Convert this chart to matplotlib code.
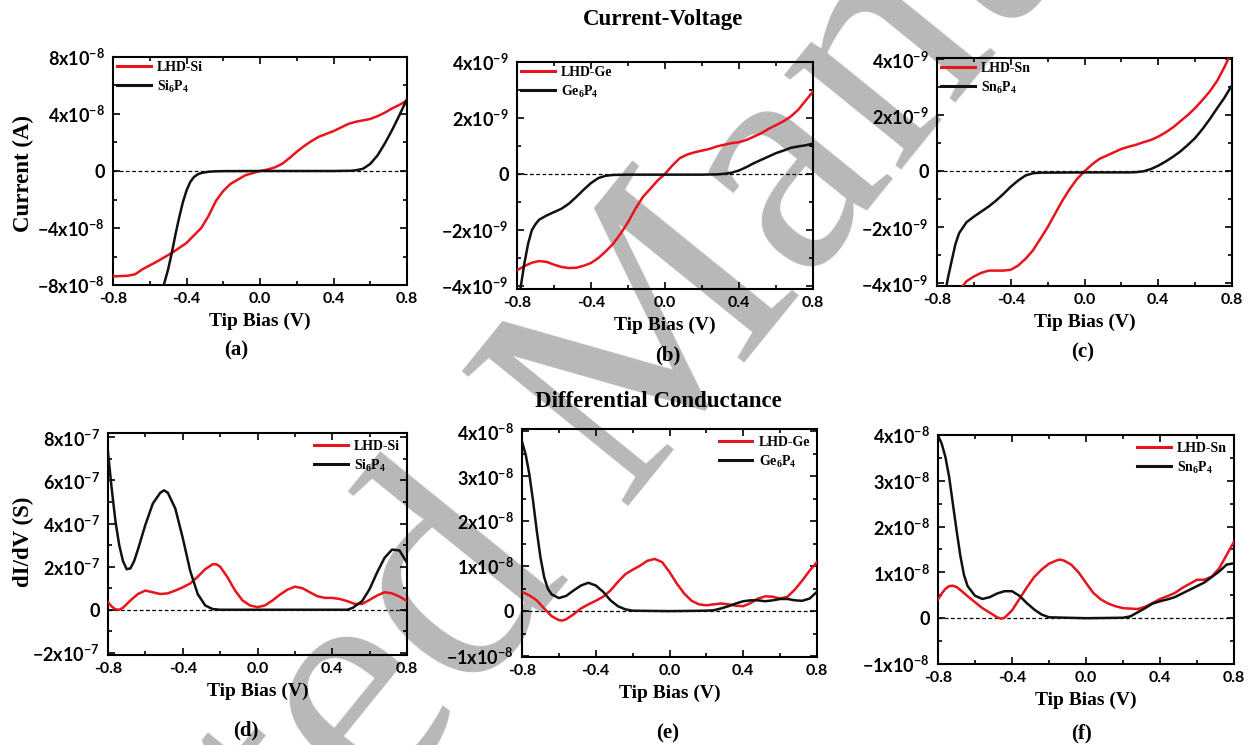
import numpy as np
import matplotlib
matplotlib.use("Agg")
import matplotlib.pyplot as plt
from matplotlib.ticker import MultipleLocator

plt.rcParams['font.family'] = ['Liberation Serif', 'DejaVu Serif']
plt.rcParams['mathtext.fontset'] = 'custom'
plt.rcParams['mathtext.rm'] = 'Liberation Serif:bold'
plt.rcParams['mathtext.bf'] = 'Lato:bold'
plt.rcParams['axes.unicode_minus'] = False

# ---- data ----
# (a) I-V, Si, units of 1e-8 A
a_lhd_x = [-0.80, -0.72, -0.68, -0.64, -0.56, -0.48, -0.40, -0.32, -0.28, -0.24, -0.20, -0.16, -0.12, -0.08, -0.04,
           0.00, 0.04, 0.08, 0.12, 0.16, 0.20, 0.24, 0.28, 0.32, 0.36, 0.40, 0.44, 0.48, 0.52, 0.56, 0.60, 0.64,
           0.68, 0.72, 0.76, 0.80]
a_lhd_y = [-7.4, -7.35, -7.25, -6.9, -6.35, -5.75, -5.05, -4.0, -3.15, -2.1, -1.4, -0.9, -0.6, -0.3, -0.15,
           0.0, 0.1, 0.25, 0.5, 0.9, 1.35, 1.75, 2.1, 2.4, 2.6, 2.8, 3.05, 3.3, 3.45, 3.55, 3.65, 3.85,
           4.1, 4.4, 4.65, 4.95]
a_si_x = [-0.53, -0.50, -0.48, -0.46, -0.44, -0.42, -0.40, -0.38, -0.36, -0.34, -0.32, -0.28, -0.24, -0.20,
          0.00, 0.20, 0.40, 0.50, 0.52, 0.56, 0.60, 0.64, 0.68, 0.72, 0.76, 0.80]
a_si_y = [-8.3, -6.9, -5.75, -4.45, -3.27, -2.2, -1.37, -0.78, -0.43, -0.24, -0.14, -0.05, -0.02, -0.01,
          0.0, 0.0, 0.0, 0.02, 0.05, 0.15, 0.5, 1.1, 1.95, 2.9, 3.95, 5.05]

# (b) I-V, Ge, units of 1e-9 A
b_lhd_x = [-0.80, -0.76, -0.72, -0.68, -0.64, -0.60, -0.56, -0.52, -0.48, -0.44, -0.40, -0.36, -0.32, -0.28,
           -0.24, -0.20, -0.16, -0.12, -0.08, -0.04, 0.00, 0.04, 0.08, 0.12, 0.16, 0.20, 0.24, 0.28, 0.32,
           0.36, 0.40, 0.44, 0.48, 0.52, 0.56, 0.60, 0.64, 0.68, 0.72, 0.76, 0.80]
b_lhd_y = [-3.45, -3.30, -3.18, -3.12, -3.15, -3.25, -3.33, -3.37, -3.36, -3.29, -3.19, -3.01, -2.77, -2.50,
           -2.14, -1.73, -1.25, -0.83, -0.54, -0.24, 0.0, 0.30, 0.56, 0.69, 0.77, 0.83, 0.89, 0.98, 1.04,
           1.10, 1.13, 1.21, 1.33, 1.45, 1.61, 1.74, 1.88, 2.05, 2.29, 2.62, 2.94]
b_ge_x = [-0.80, -0.78, -0.76, -0.74, -0.72, -0.70, -0.68, -0.64, -0.60, -0.56, -0.52, -0.48, -0.44, -0.40,
          -0.36, -0.32, -0.28, -0.20, 0.00, 0.20, 0.28, 0.32, 0.36, 0.40, 0.44, 0.48, 0.52, 0.56, 0.60, 0.64,
          0.68, 0.72, 0.76, 0.80]
b_ge_y = [-4.9, -4.05, -3.2, -2.5, -2.02, -1.8, -1.64, -1.49, -1.37, -1.25, -1.07, -0.83, -0.57, -0.33,
          -0.15, -0.07, -0.04, -0.03, -0.03, -0.03, -0.02, 0.0, 0.04, 0.12, 0.24, 0.38, 0.50, 0.62, 0.74, 0.83,
          0.93, 0.98, 1.02, 1.08]

# (c) I-V, Sn, units of 1e-9 A
c_lhd_x = [-0.69, -0.64, -0.60, -0.56, -0.52, -0.48, -0.44, -0.40, -0.36, -0.32, -0.28, -0.24, -0.20, -0.16,
           -0.12, -0.08, -0.04, 0.00, 0.04, 0.08, 0.12, 0.16, 0.20, 0.24, 0.28, 0.32, 0.36, 0.40, 0.44, 0.48,
           0.52, 0.56, 0.60, 0.64, 0.68, 0.72, 0.76, 0.80]
c_lhd_y = [-4.35, -3.93, -3.76, -3.63, -3.55, -3.55, -3.55, -3.52, -3.37, -3.13, -2.83, -2.42, -2.0, -1.52,
           -1.05, -0.63, -0.27, 0.0, 0.24, 0.44, 0.56, 0.68, 0.8, 0.88, 0.95, 1.04, 1.12, 1.24, 1.39, 1.57,
           1.79, 2.01, 2.26, 2.55, 2.86, 3.24, 3.74, 4.3]
c_sn_x = [-0.76, -0.74, -0.72, -0.70, -0.68, -0.64, -0.60, -0.56, -0.52, -0.48, -0.44, -0.40, -0.36, -0.32,
          -0.28, -0.24, 0.00, 0.24, 0.28, 0.32, 0.36, 0.40, 0.44, 0.48, 0.52, 0.56, 0.60, 0.64, 0.68, 0.72,
          0.76, 0.80]
c_sn_y = [-4.5, -3.79, -3.19, -2.6, -2.21, -1.82, -1.62, -1.44, -1.26, -1.05, -0.81, -0.55, -0.33, -0.15,
          -0.07, -0.05, -0.04, -0.04, -0.03, 0.0, 0.08, 0.2, 0.35, 0.52, 0.71, 0.94, 1.19, 1.51, 1.87, 2.26,
          2.64, 3.08]

# (d) dI/dV, Si, units of 1e-7 S
d_lhd_x = [-0.80, -0.78, -0.76, -0.74, -0.72, -0.68, -0.64, -0.60, -0.56, -0.52, -0.48, -0.44, -0.40, -0.36,
           -0.32, -0.28, -0.24, -0.22, -0.20, -0.16, -0.12, -0.08, -0.04, 0.00, 0.04, 0.08, 0.12, 0.16, 0.20,
           0.24, 0.28, 0.32, 0.36, 0.40, 0.44, 0.48, 0.52, 0.56, 0.60, 0.64, 0.68, 0.72, 0.76, 0.80]
d_lhd_y = [0.35, 0.15, 0.02, 0.0, 0.09, 0.43, 0.73, 0.89, 0.81, 0.73, 0.76, 0.89, 1.04, 1.22,
           1.53, 1.88, 2.11, 2.11, 2.0, 1.5, 0.89, 0.43, 0.2, 0.12, 0.2, 0.43, 0.7, 0.93, 1.07,
           1.0, 0.81, 0.63, 0.55, 0.55, 0.5, 0.4, 0.27, 0.27, 0.46, 0.66, 0.81, 0.76, 0.61, 0.4]
d_si_x = [-0.80, -0.78, -0.76, -0.74, -0.72, -0.70, -0.68, -0.66, -0.64, -0.60, -0.56, -0.52, -0.50, -0.48,
          -0.44, -0.40, -0.36, -0.32, -0.28, -0.24, -0.20, 0.00, 0.20, 0.40, 0.48, 0.51, 0.56, 0.60, 0.64,
          0.68, 0.72, 0.76, 0.80]
d_si_y = [7.3, 5.6, 4.1, 3.0, 2.26, 1.88, 1.92, 2.26, 2.79, 3.94, 4.93, 5.43, 5.54, 5.43,
          4.7, 3.33, 1.8, 0.73, 0.2, 0.03, 0.0, 0.0, 0.0, 0.0, 0.0, 0.09, 0.4, 0.96, 1.73,
          2.41, 2.79, 2.75, 2.18]

# (e) dI/dV, Ge, units of 1e-8 S
e_lhd_x = [-0.80, -0.76, -0.72, -0.68, -0.64, -0.60, -0.58, -0.56, -0.52, -0.48, -0.44, -0.40, -0.36, -0.32,
           -0.28, -0.24, -0.20, -0.16, -0.12, -0.08, -0.04, 0.00, 0.04, 0.08, 0.12, 0.16, 0.20, 0.24, 0.28,
           0.32, 0.36, 0.40, 0.44, 0.48, 0.52, 0.56, 0.60, 0.64, 0.68, 0.72, 0.76, 0.80]
e_lhd_y = [0.43, 0.35, 0.24, 0.06, -0.11, -0.2, -0.21, -0.18, -0.07, 0.06, 0.15, 0.23, 0.32, 0.46,
           0.65, 0.82, 0.92, 1.01, 1.12, 1.16, 1.09, 0.87, 0.61, 0.39, 0.23, 0.15, 0.13, 0.15, 0.17,
           0.15, 0.12, 0.11, 0.18, 0.28, 0.33, 0.32, 0.28, 0.32, 0.48, 0.68, 0.9, 1.09]
e_ge_x = [-0.80, -0.78, -0.76, -0.74, -0.72, -0.70, -0.68, -0.66, -0.64, -0.60, -0.56, -0.52, -0.48, -0.44,
          -0.40, -0.36, -0.32, -0.28, -0.24, -0.20, 0.00, 0.20, 0.24, 0.28, 0.32, 0.36, 0.40, 0.44, 0.48,
          0.52, 0.56, 0.60, 0.64, 0.68, 0.72, 0.76, 0.80]
e_ge_y = [3.77, 3.48, 3.04, 2.45, 1.79, 1.2, 0.76, 0.5, 0.375, 0.29, 0.34, 0.46, 0.57, 0.63,
          0.57, 0.43, 0.24, 0.11, 0.04, 0.01, 0.0, 0.01, 0.02, 0.06, 0.11, 0.17, 0.22, 0.24, 0.24,
          0.22, 0.24, 0.27, 0.27, 0.24, 0.23, 0.28, 0.43]

# (f) dI/dV, Sn, units of 1e-8 S
f_lhd_x = [-0.80, -0.78, -0.76, -0.74, -0.72, -0.70, -0.68, -0.64, -0.60, -0.56, -0.52, -0.48, -0.46, -0.44,
           -0.40, -0.36, -0.32, -0.28, -0.24, -0.20, -0.16, -0.14, -0.12, -0.08, -0.04, 0.00, 0.04, 0.08,
           0.12, 0.16, 0.20, 0.24, 0.28, 0.32, 0.36, 0.40, 0.44, 0.48, 0.52, 0.56, 0.60, 0.64, 0.68, 0.72,
           0.76, 0.80]
f_lhd_y = [0.41, 0.54, 0.64, 0.7, 0.71, 0.68, 0.62, 0.48, 0.35, 0.22, 0.12, 0.02, -0.01, 0.01,
           0.17, 0.42, 0.67, 0.9, 1.06, 1.19, 1.26, 1.28, 1.26, 1.17, 1.0, 0.77, 0.55, 0.41,
           0.32, 0.26, 0.22, 0.21, 0.2, 0.25, 0.33, 0.42, 0.48, 0.55, 0.66, 0.75, 0.84, 0.84, 0.91, 1.09,
           1.38, 1.67]
f_sn_x = [-0.80, -0.78, -0.76, -0.74, -0.72, -0.70, -0.68, -0.66, -0.64, -0.60, -0.56, -0.52, -0.48, -0.44,
          -0.40, -0.36, -0.32, -0.28, -0.24, -0.20, 0.00, 0.20, 0.24, 0.28, 0.32, 0.36, 0.40, 0.44, 0.48,
          0.52, 0.56, 0.60, 0.64, 0.68, 0.72, 0.76, 0.80]
f_sn_y = [3.99, 3.81, 3.52, 3.09, 2.51, 1.93, 1.38, 0.95, 0.7, 0.49, 0.42, 0.46, 0.54, 0.59,
          0.59, 0.49, 0.33, 0.19, 0.08, 0.02, 0.0, 0.01, 0.04, 0.13, 0.22, 0.32, 0.37, 0.41, 0.46,
          0.54, 0.62, 0.7, 0.78, 0.9, 1.02, 1.17, 1.2]

x_ticks = [-0.8, -0.4, 0.0, 0.4, 0.8]
x_tick_labels = ['-0.8', '-0.4', '0.0', '0.4', '0.8']

# panel definitions: data, exponent, major ticks, minor step, ylim, legend names, axes rect in px
W, H = 1253, 745
panels = [
    dict(tag='(a)', red=(a_lhd_x, a_lhd_y), blk=(a_si_x, a_si_y), exp=-8, yt=[-8, -4, 0, 4, 8], mn=2,
         ylim=(-8.0, 8.0), names=('LHD-Si', 'Si$_6$P$_4$'), rect=(113, 57, 407, 285), top=True),
    dict(tag='(b)', red=(b_lhd_x, b_lhd_y), blk=(b_ge_x, b_ge_y), exp=-9, yt=[-4, -2, 0, 2, 4], mn=1,
         ylim=(-4.12, 4.0), names=('LHD-Ge', 'Ge$_6$P$_4$'), rect=(517, 62, 813, 289), top=True),
    dict(tag='(c)', red=(c_lhd_x, c_lhd_y), blk=(c_sn_x, c_sn_y), exp=-9, yt=[-4, -2, 0, 2, 4], mn=1,
         ylim=(-4.1, 4.05), names=('LHD-Sn', 'Sn$_6$P$_4$'), rect=(937, 58, 1232, 286), top=True),
    dict(tag='(d)', red=(d_lhd_x, d_lhd_y), blk=(d_si_x, d_si_y), exp=-7, yt=[-2, 0, 2, 4, 6, 8], mn=1,
         ylim=(-2.1, 8.2), names=('LHD-Si', 'Si$_6$P$_4$'), rect=(108, 433, 407, 655), top=False),
    dict(tag='(e)', red=(e_lhd_x, e_lhd_y), blk=(e_ge_x, e_ge_y), exp=-8, yt=[-1, 0, 1, 2, 3, 4], mn=0.5,
         ylim=(-1.02, 4.05), names=('LHD-Ge', 'Ge$_6$P$_4$'), rect=(522, 429, 817, 657), top=False),
    dict(tag='(f)', red=(f_lhd_x, f_lhd_y), blk=(f_sn_x, f_sn_y), exp=-8, yt=[-1, 0, 1, 2, 3, 4], mn=0.5,
         ylim=(-1.0, 4.0), names=('LHD-Sn', 'Sn$_6$P$_4$'), rect=(938, 435, 1234, 664), top=False),
]


def sci_label(n, e):
    if n == 0:
        return '0'
    return r'$\mathbf{%gx10^{%d}}$' % (n, e)


fig = plt.figure(figsize=(W / 100, H / 100), dpi=100)

# watermark behind the plots
fig.text(0.4916, 0.4685, 'Accepted Manuscript', rotation=51, rotation_mode='anchor',
         ha='center', va='center', fontsize=235, color='#b8b8b8',
         family='Liberation Serif', zorder=-10)

for p in panels:
    l, t, r, b = p['rect']
    ax = fig.add_axes([l / W, 1 - b / H, (r - l) / W, (b - t) / H])
    ax.set_facecolor('none')
    s = 10.0 ** p['exp']

    ax.axhline(0, color='black', lw=0.9, ls=(0, (3, 2)), zorder=1)
    ax.plot(p['red'][0], np.array(p['red'][1]) * s, color='#e8141b', lw=1.8, label=p['names'][0], zorder=3)
    ax.plot(p['blk'][0], np.array(p['blk'][1]) * s, color='#111111', lw=1.8, label=p['names'][1], zorder=3)

    ax.set_xlim(-0.8, 0.8)
    ax.set_ylim(p['ylim'][0] * s, p['ylim'][1] * s)
    ax.set_xticks(x_ticks, x_tick_labels, fontsize=11.5, fontweight='bold', family='Lato')
    ax.set_yticks([v * s for v in p['yt']], [sci_label(v, p['exp']) for v in p['yt']],
                  fontsize=13, fontweight='bold', family='Lato')
    ax.xaxis.set_minor_locator(MultipleLocator(0.2))
    ax.yaxis.set_minor_locator(MultipleLocator(p['mn'] * s))
    ax.tick_params(which='both', direction='in', top=True, right=True, width=1.2)
    ax.tick_params(axis='x', pad=5)
    ax.tick_params(axis='y', pad=6)
    ax.tick_params(which='major', length=5)
    ax.tick_params(which='minor', length=3)
    for sp in ax.spines.values():
        sp.set_linewidth(1.5)

    if p['top']:
        leg = ax.legend(loc='upper left', bbox_to_anchor=(0.0, 1.0), frameon=False, borderaxespad=0,
                        borderpad=0.3, handlelength=2.4, handletextpad=0.45, labelspacing=0.3,
                        prop=dict(family='Liberation Serif', weight='bold', size=10))
    else:
        leg = ax.legend(loc='upper right', bbox_to_anchor=(1.0, 1.0), frameon=False, borderaxespad=0,
                        borderpad=0.5, handlelength=2.4, handletextpad=0.45, labelspacing=0.3,
                        prop=dict(family='Liberation Serif', weight='bold', size=10))
    for h in leg.get_lines():
        h.set_linewidth(2.2)

    ax.set_xlabel('Tip Bias (V)', fontsize=14, fontweight='bold', labelpad=5)

# y labels, panel tags and row titles
fig.text(23 / W, 1 - 173 / H, 'Current (A)', rotation=90, ha='center', va='center',
         fontsize=16.5, fontweight='bold')
fig.text(23 / W, 1 - 542 / H, 'dI/dV (S)', rotation=90, ha='center', va='center',
         fontsize=16.5, fontweight='bold')
fig.text(663 / W, 1 - 20 / H, 'Current-Voltage', ha='center', va='center', fontsize=16.5, fontweight='bold')
fig.text(658 / W, 1 - 402 / H, 'Differential Conductance', ha='center', va='center',
         fontsize=16.5, fontweight='bold')
tag_pos = [(236, 350), (668, 355), (1083, 352), (246, 730), (668, 733), (1082, 733)]
for p, (tx, ty) in zip(panels, tag_pos):
    fig.text(tx / W, 1 - ty / H, p['tag'], ha='center', va='center', fontsize=15, fontweight='bold')

fig.savefig('out.png', dpi=100)
